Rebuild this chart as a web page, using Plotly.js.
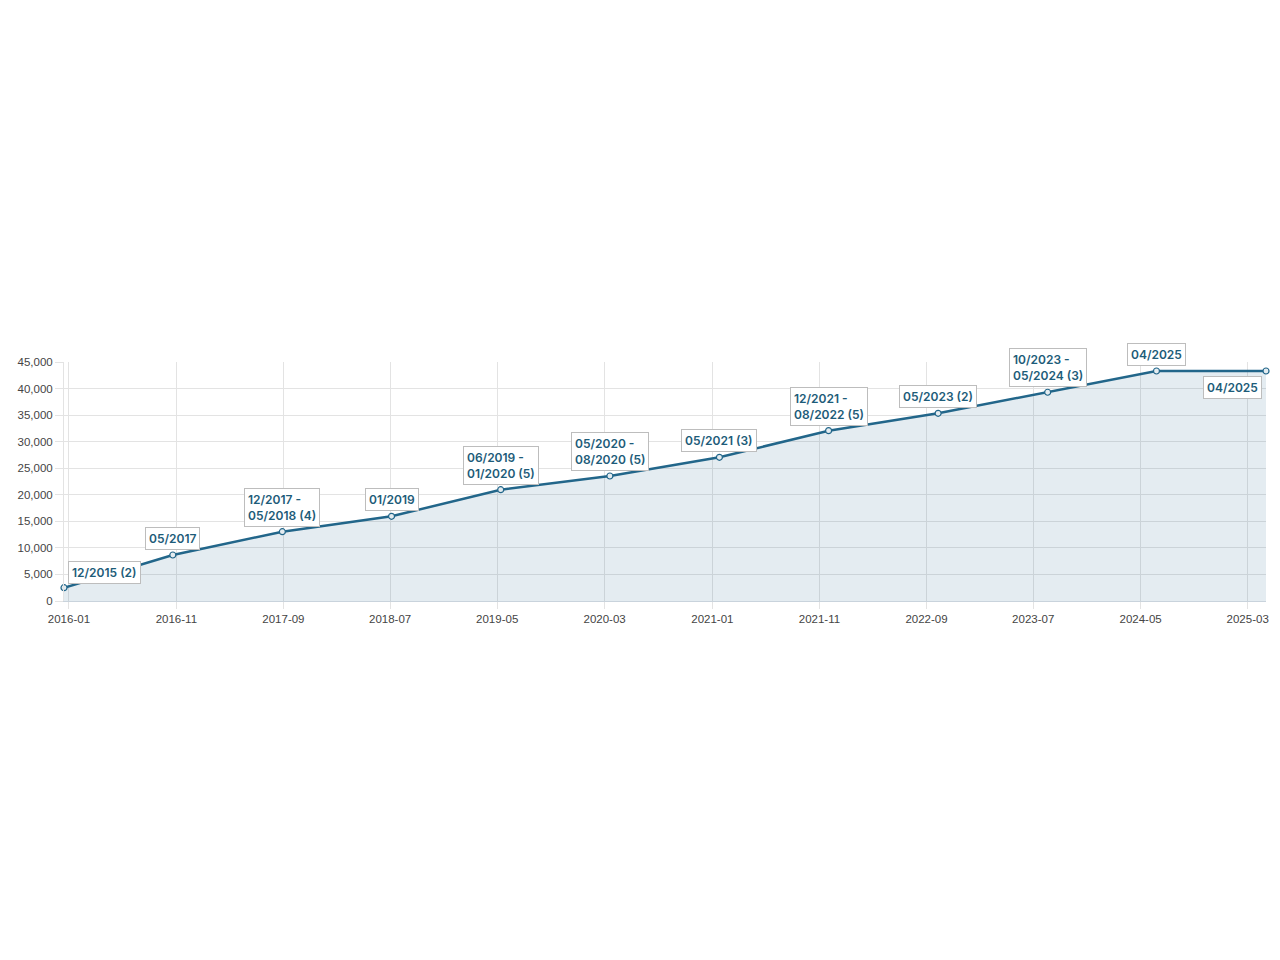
<!DOCTYPE html>
<html>
<head>
<meta charset="utf-8">
<script src="https://cdn.plot.ly/plotly-3.0.1.min.js"></script>
<style>
  html, body { margin: 0; padding: 0; background: #fff; }
  #chart { width: 1280px; height: 960px; }
</style>
</head>
<body>
<div id="chart"></div>
<script>
// dates of each point
var dates = ["2015-12-18", "2016-10-22", "2017-08-29", "2018-07-05", "2019-05-11",
             "2020-03-16", "2021-01-21", "2021-11-27", "2022-10-04", "2023-08-11",
             "2024-06-15", "2025-04-22"];
var values = [2500, 8660, 13050, 15950, 20960, 23540, 27060, 32070, 35340, 39300, 43310, 43310];
var labels = ["12/2015 (2)", "05/2017", "12/2017 -<br>05/2018 (4)", "01/2019",
              "06/2019 -<br>01/2020 (5)", "05/2020 -<br>08/2020 (5)", "05/2021 (3)",
              "12/2021 -<br>08/2022 (5)", "05/2023 (2)", "10/2023 -<br>05/2024 (3)",
              "04/2025", "04/2025"];

var LINE = "#22668a";
var TEXT = "#1d5c79";

var annotations = [];
for (var i = 0; i < dates.length; i++) {
    var a = {
        x: dates[i], y: values[i], text: labels[i],
        showarrow: false, align: "left",
        xanchor: "center", yanchor: "bottom", yshift: 5,
        font: {family: "Inter, 'Liberation Sans', sans-serif", size: 12, color: TEXT, weight: 600},
        bgcolor: "#ffffff", bordercolor: "#bdbdbd", borderwidth: 1, borderpad: 3
    };
    if (i == 0) {
        // first one sits to the right of its point
        a.xanchor = "left"; a.xshift = 4; a.yshift = 4;
    } else if (i == dates.length - 1) {
        // last one hangs below-left
        a.xanchor = "right"; a.yanchor = "top"; a.xshift = -4; a.yshift = -5;
    }
    annotations.push(a);
}

Plotly.newPlot("chart", [{
    x: dates,
    y: values,
    type: "scatter",
    mode: "lines+markers",
    fill: "tozeroy",
    fillcolor: "rgba(35,102,138,0.12)",
    line: {color: LINE, width: 2.5},
    marker: {size: 6, color: "#e4ecf0", line: {color: LINE, width: 1.2}},
    cliponaxis: false,
    hoverinfo: "x+y"
}], {
    width: 1280,
    height: 960,
    margin: {l: 64, r: 14, t: 362, b: 359},
    paper_bgcolor: "#ffffff",
    plot_bgcolor: "#ffffff",
    showlegend: false,
    font: {family: "'Liberation Sans', Arial, sans-serif", size: 11.5, color: "#444"},
    xaxis: {
        type: "date",
        range: ["2015-12-18", "2025-04-22"],
        tick0: "2016-01-01",
        dtick: "M10",
        tickformat: "%Y-%m",
        showgrid: true,
        gridcolor: "#e3e3e3",
        ticks: "outside",
        ticklen: 7,
        tickcolor: "#e3e3e3",
        showline: true,
        linecolor: "#c9d3dc",
        zeroline: false,
        tickfont: {size: 11.5, color: "#444"}
    },
    yaxis: {
        range: [0, 45000],
        dtick: 5000,
        tickformat: ",d",
        showgrid: true,
        gridcolor: "#e3e3e3",
        ticks: "outside",
        ticklen: 8,
        tickcolor: "#e3e3e3",
        showline: true,
        linecolor: "#e3e3e3",
        zeroline: false,
        tickfont: {size: 11.5, color: "#444"}
    },
    annotations: annotations
}, {
    displayModeBar: false
});
</script>
</body>
</html>
